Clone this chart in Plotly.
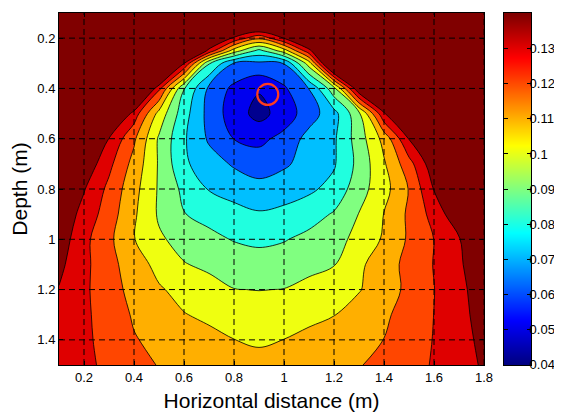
import plotly.graph_objects as go

# ---- data ----
x_grid = [0.1, 0.2, 0.3, 0.4, 0.5, 0.6, 0.7, 0.8, 0.9, 1.0, 1.1, 1.2, 1.3, 1.4, 1.5, 1.6, 1.7, 1.8]
y_grid = [0.1, 0.15, 0.2, 0.25, 0.3, 0.4, 0.5, 0.6, 0.7, 0.8, 0.9, 1.0, 1.1, 1.2, 1.3, 1.4, 1.5]

z_y010 = [0.2, 0.2, 0.2, 0.2, 0.2, 0.2, 0.2, 0.2, 0.2, 0.2, 0.2, 0.2, 0.2, 0.2, 0.2, 0.2, 0.2, 0.2]
z_y015 = [0.2, 0.2, 0.2, 0.2, 0.2, 0.2, 0.18, 0.165, 0.158, 0.165, 0.18, 0.2, 0.2, 0.2, 0.2, 0.2, 0.2, 0.2]
z_y020 = [0.2, 0.2, 0.2, 0.2, 0.2, 0.18, 0.158, 0.138, 0.122, 0.1405, 0.16, 0.18, 0.2, 0.2, 0.2, 0.2, 0.2, 0.2]
z_y025 = [0.2, 0.2, 0.2, 0.2, 0.2, 0.17, 0.137, 0.105, 0.087, 0.105, 0.137, 0.17, 0.2, 0.2, 0.2, 0.2, 0.2, 0.2]
z_y030 = [0.2, 0.2, 0.2, 0.2, 0.19, 0.1405, 0.091, 0.0695, 0.068, 0.0702, 0.105, 0.17, 0.2, 0.2, 0.2, 0.2, 0.2, 0.2]
z_y040 = [0.2, 0.2, 0.2, 0.177, 0.1325, 0.0905, 0.0679, 0.0576, 0.051, 0.0585, 0.0702, 0.0967, 0.15, 0.18, 0.2, 0.2, 0.2, 0.2]
z_y050 = [0.2, 0.2, 0.165, 0.1357, 0.1066, 0.084, 0.0666, 0.0549, 0.0465, 0.0545, 0.0652, 0.0764, 0.0979, 0.1385, 0.165, 0.19, 0.2, 0.2]
z_y060 = [0.175, 0.156, 0.1397, 0.1217, 0.0986, 0.0813, 0.0686, 0.0598, 0.0575, 0.0629, 0.0736, 0.0785, 0.095, 0.1133, 0.1405, 0.165, 0.19, 0.2]
z_y070 = [0.16, 0.1477, 0.1326, 0.1166, 0.0989, 0.0817, 0.0744, 0.0688, 0.065, 0.0685, 0.0738, 0.079, 0.093, 0.1088, 0.1262, 0.147, 0.17, 0.19]
z_y080 = [0.154, 0.1407, 0.1275, 0.1133, 0.0988, 0.0876, 0.0794, 0.076, 0.0735, 0.0755, 0.0783, 0.083, 0.096, 0.1063, 0.1205, 0.1405, 0.16, 0.18]
z_y090 = [0.148, 0.1365, 0.125, 0.1115, 0.0987, 0.0903, 0.087, 0.0835, 0.081, 0.0825, 0.0855, 0.091, 0.1003, 0.1103, 0.1218, 0.1336, 0.148, 0.165]
z_y100 = [0.146, 0.1327, 0.1222, 0.1104, 0.1014, 0.0966, 0.0925, 0.0894, 0.088, 0.0893, 0.0929, 0.097, 0.1025, 0.1113, 0.1214, 0.1301, 0.1394, 0.148]
z_y110 = [0.1425, 0.1325, 0.1233, 0.1147, 0.107, 0.1005, 0.0981, 0.0957, 0.0941, 0.0955, 0.097, 0.0995, 0.1081, 0.1154, 0.123, 0.1304, 0.1384, 0.148]
z_y120 = [0.1395, 0.1319, 0.1239, 0.117, 0.111, 0.107, 0.1034, 0.1002, 0.0998, 0.1002, 0.1031, 0.1063, 0.1094, 0.1153, 0.1223, 0.1298, 0.1375, 0.145]
z_y130 = [0.1375, 0.132, 0.1252, 0.119, 0.1147, 0.1104, 0.1082, 0.1063, 0.1043, 0.1055, 0.1075, 0.1097, 0.114, 0.1184, 0.1239, 0.1301, 0.1369, 0.144]
z_y140 = [0.137, 0.1321, 0.1263, 0.1206, 0.1177, 0.1151, 0.1125, 0.1101, 0.1088, 0.1101, 0.1126, 0.1151, 0.1176, 0.1201, 0.1252, 0.1304, 0.1364, 0.1425]
z_y150 = [0.136, 0.1321, 0.1279, 0.1236, 0.1195, 0.117, 0.1148, 0.1135, 0.1128, 0.1133, 0.1148, 0.117, 0.1195, 0.1226, 0.1266, 0.1308, 0.136, 0.1412]

source_x = [0.935]
source_y = [0.424]

x_ticks = [0.2, 0.4, 0.6, 0.8, 1.0, 1.2, 1.4, 1.6, 1.8]
x_tick_labels = ["0.2", "0.4", "0.6", "0.8", "1", "1.2", "1.4", "1.6", "1.8"]
y_ticks = [0.2, 0.4, 0.6, 0.8, 1.0, 1.2, 1.4]
y_tick_labels = ["0.2", "0.4", "0.6", "0.8", "1", "1.2", "1.4"]
cbar_ticks = [0.04, 0.05, 0.06, 0.07, 0.08, 0.09, 0.10, 0.11, 0.12, 0.13, 0.14]
cbar_tick_labels = ["0.04", "0.05", "0.06", "0.07", "0.08", "0.09", "0.1", "0.11", "0.12", "0.13", "0.14"]

# ---- styling ----
z = [z_y010, z_y015, z_y020, z_y025, z_y030, z_y040, z_y050, z_y060, z_y070,
     z_y080, z_y090, z_y100, z_y110, z_y120, z_y130, z_y140, z_y150]

band_colors = ["rgb(0,0,143)", "rgb(0,0,239)", "rgb(0,80,255)", "rgb(0,191,255)",
               "rgb(32,255,223)", "rgb(128,255,128)", "rgb(239,255,16)", "rgb(255,175,0)",
               "rgb(255,70,0)", "rgb(223,0,0)", "rgb(128,0,0)"]
band_scale = [[i / (len(band_colors) - 1), c] for i, c in enumerate(band_colors)]

jet = [[0.0, "rgb(0,0,128)"], [0.125, "rgb(0,0,255)"], [0.375, "rgb(0,255,255)"],
       [0.625, "rgb(255,255,0)"], [0.875, "rgb(255,0,0)"], [1.0, "rgb(128,0,0)"]]

FONT = "Liberation Sans, Arial, Helvetica, sans-serif"
# the page body adds an 8px offset, so the figure is 8px smaller than the window
W, H = 554, 405
ML, MT, MB = 51, 5, 48          # margins in figure pixels (right margin 0)
PW = W - ML                      # paper width
MAIN_R = 476                     # right edge of main plot (figure px)
CB_L, CB_R = 496, 523            # colour-bar edges (figure px)
CB_EPS = 0.0002                  # keeps the end ticks inside the colour-bar range

fig = go.Figure()
fig.add_trace(go.Contour(
    x=x_grid, y=y_grid, z=z,
    autocontour=False,
    contours=dict(start=0.05, end=0.14, size=0.01, coloring="fill"),
    colorscale=band_scale,
    line=dict(color="black", width=0.8, smoothing=1.0),
    showscale=False,
    hoverinfo="skip",
    xaxis="x", yaxis="y",
))

# source marker
fig.add_trace(go.Scatter(
    x=source_x, y=source_y, mode="markers",
    marker=dict(symbol="circle-open", size=21, color="rgb(255,60,30)",
                line=dict(width=2.2, color="rgb(255,60,30)")),
    hoverinfo="skip", showlegend=False, xaxis="x", yaxis="y",
))

# colour bar drawn as its own small axis (continuous jet, 0.04 .. 0.14)
fig.add_trace(go.Heatmap(
    x=[0, 1], y=cbar_ticks, z=[[v, v] for v in cbar_ticks],
    colorscale=jet, zmin=cbar_ticks[0], zmax=cbar_ticks[-1],
    zsmooth="best", showscale=False, hoverinfo="skip",
    xaxis="x2", yaxis="y2",
))

# dashed grid on top of the filled contours
shapes = []
for xv in x_ticks:
    shapes.append(dict(type="line", xref="x", yref="y domain", x0=xv, x1=xv, y0=0, y1=1,
                       layer="above", line=dict(color="black", width=1, dash="6px,4px")))
for yv in y_ticks:
    shapes.append(dict(type="line", xref="x domain", yref="y", x0=0, x1=1, y0=yv, y1=yv,
                       layer="above", line=dict(color="black", width=1, dash="6px,4px")))

fig.update_layout(
    width=W, height=H,
    margin=dict(l=ML, r=0, t=MT, b=MB, autoexpand=False),
    paper_bgcolor="white", plot_bgcolor="white",
    showlegend=False,
    shapes=shapes,
    font=dict(family=FONT, color="black"),
    xaxis=dict(domain=[0, (MAIN_R - ML) / PW], range=[0.1, 1.8],
               tickvals=x_ticks, ticktext=x_tick_labels,
               showgrid=False, zeroline=False, showline=True, linecolor="black",
               linewidth=1, mirror="allticks", ticks="inside", ticklen=4,
               tickcolor="black", tickfont=dict(size=13),
               title=dict(text="Horizontal distance (m)", font=dict(size=21), standoff=9),
               automargin=False),
    yaxis=dict(domain=[0, 1], range=[1.5, 0.1], tickvals=y_ticks, ticktext=y_tick_labels,
               showgrid=False, zeroline=False, showline=True, linecolor="black",
               linewidth=1, mirror="allticks", ticks="inside", ticklen=4,
               tickcolor="black", tickfont=dict(size=13),
               title=dict(text="Depth (m)", font=dict(size=21), standoff=3),
               automargin=False),
    xaxis2=dict(domain=[(CB_L - ML) / PW, (CB_R - ML) / PW], range=[0, 1],
                anchor="y2", showgrid=False, zeroline=False, showticklabels=False,
                ticks="", showline=True, linecolor="black", linewidth=1, mirror=True,
                fixedrange=True),
    yaxis2=dict(domain=[0, 1], range=[cbar_ticks[0] - CB_EPS, cbar_ticks[-1] + CB_EPS],
                anchor="x2", side="right", tickvals=cbar_ticks, ticktext=cbar_tick_labels,
                showgrid=False, zeroline=False, showline=True, linecolor="black",
                linewidth=1, mirror="allticks", ticks="inside", ticklen=4,
                tickcolor="black", tickfont=dict(size=13), ticklabelstandoff=-5,
                fixedrange=True, automargin=False),
)

fig.write_html("out.html")
